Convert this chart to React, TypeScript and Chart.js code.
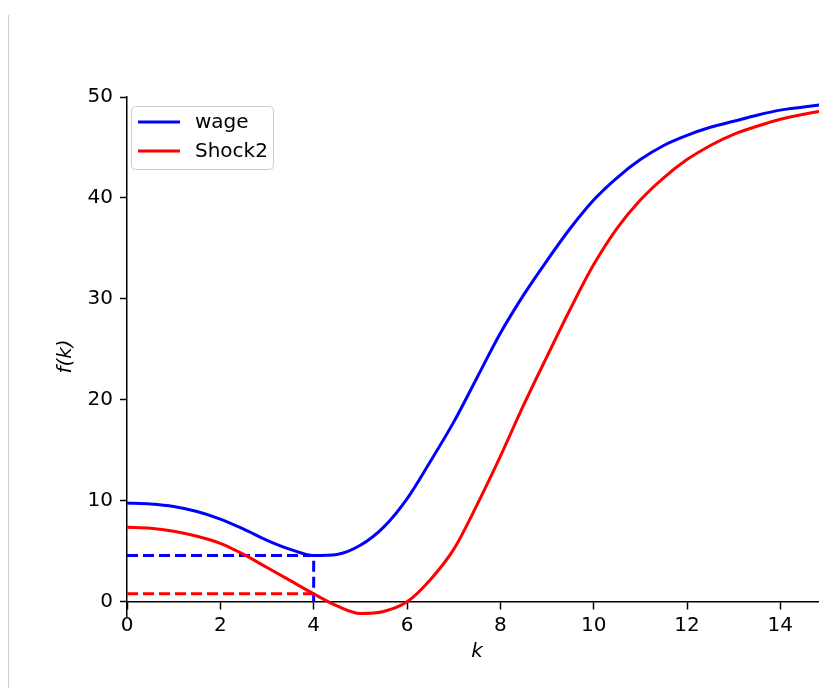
import React, { useEffect, useRef } from 'react';
import { Chart, registerables } from 'chart.js';

Chart.register(...registerables);

// ---- data ----
const kValues = [0, 0.5, 1, 1.5, 2, 2.5, 3, 3.5, 4, 4.5, 5, 5.5, 6, 6.5, 7, 7.5, 8, 8.5, 9, 9.5, 10, 10.5, 11, 11.5, 12, 12.5, 13, 13.5, 14, 14.5, 15];
const wage = [9.8, 9.7, 9.45, 8.95, 8.2, 7.2, 6.1, 5.2, 4.6, 4.7, 5.6, 7.4, 10.2, 13.9, 17.8, 22.2, 26.6, 30.4, 33.8, 37.0, 39.8, 42.0, 43.8, 45.2, 46.2, 47.0, 47.6, 48.2, 48.7, 49.0, 49.3];
const shock2 = [7.4, 7.3, 7.0, 6.5, 5.8, 4.7, 3.4, 2.1, 0.8, -0.4, -1.15, -0.95, 0.0, 2.2, 5.2, 9.6, 14.4, 19.5, 24.3, 29.0, 33.4, 37.0, 39.8, 42.0, 43.8, 45.2, 46.3, 47.1, 47.8, 48.3, 48.7];
const wageDashK = [0, 4, 4];
const wageDashF = [4.6, 4.6, 0];
const shockDashK = [0, 4];
const shockDashF = [0.8, 0.8];
const seriesLabels = ['wage', 'Shock2'];
const seriesColors = ['#0000ff', '#ff0000'];
const xTicks = [0, 2, 4, 6, 8, 10, 12, 14];
const yTicks = [0, 10, 20, 30, 40, 50];
const xMin = 0;
const xMax = 15;
const yMin = -1.4;
const yMax = 50;

const FONT = 'DejaVu Sans';

const toPoints = (xs: number[], ys: number[]) => xs.map((x, i) => ({ x, y: ys[i] }));

const legendPlugin = {
  id: 'mplLegend',
  afterDatasetsDraw(chart: any) {
    const ctx = chart.ctx as CanvasRenderingContext2D;
    ctx.save();
    const x0 = 131.5, y0 = 106.5, w = 142, h = 63, r = 4;
    ctx.beginPath();
    ctx.moveTo(x0 + r, y0);
    ctx.lineTo(x0 + w - r, y0);
    ctx.arcTo(x0 + w, y0, x0 + w, y0 + r, r);
    ctx.lineTo(x0 + w, y0 + h - r);
    ctx.arcTo(x0 + w, y0 + h, x0 + w - r, y0 + h, r);
    ctx.lineTo(x0 + r, y0 + h);
    ctx.arcTo(x0, y0 + h, x0, y0 + h - r, r);
    ctx.lineTo(x0, y0 + r);
    ctx.arcTo(x0, y0, x0 + r, y0, r);
    ctx.closePath();
    ctx.fillStyle = 'rgba(255,255,255,0.8)';
    ctx.fill();
    ctx.strokeStyle = '#cccccc';
    ctx.lineWidth = 1;
    ctx.stroke();
    const rows = [122, 151];
    chart.data.datasets.slice(0, 2).forEach((ds: any, i: number) => {
      ctx.beginPath();
      ctx.moveTo(138, rows[i]);
      ctx.lineTo(180, rows[i]);
      ctx.strokeStyle = ds.borderColor;
      ctx.lineWidth = 3;
      ctx.stroke();
      ctx.fillStyle = '#000';
      ctx.font = `20px "${FONT}"`;
      ctx.textBaseline = 'alphabetic';
      ctx.textAlign = 'left';
      ctx.fillText(ds.label, 195, rows[i] + 6);
    });
    ctx.restore();
  },
};

export default function App() {
  const canvasRef = useRef<HTMLCanvasElement | null>(null);

  useEffect(() => {
    if (!canvasRef.current) return;
    const tickFont = { family: FONT, size: 20 };
    const chart = new Chart(canvasRef.current, {
      type: 'line',
      data: {
        datasets: [
          {
            label: seriesLabels[0],
            data: toPoints(kValues, wage),
            borderColor: seriesColors[0],
            borderWidth: 3,
            pointRadius: 0,
            cubicInterpolationMode: 'monotone',
            fill: false,
          },
          {
            label: seriesLabels[1],
            data: toPoints(kValues, shock2),
            borderColor: seriesColors[1],
            borderWidth: 3,
            pointRadius: 0,
            cubicInterpolationMode: 'monotone',
            fill: false,
          },
          {
            label: 'wage-dash',
            data: toPoints(wageDashK, wageDashF),
            borderColor: seriesColors[0],
            borderWidth: 3,
            borderDash: [11, 5],
            pointRadius: 0,
            tension: 0,
            fill: false,
          },
          {
            label: 'shock-dash',
            data: toPoints(shockDashK, shockDashF),
            borderColor: seriesColors[1],
            borderWidth: 3,
            borderDash: [11, 5],
            pointRadius: 0,
            tension: 0,
            fill: false,
          },
        ],
      },
      options: {
        responsive: false,
        maintainAspectRatio: false,
        animation: false,
        events: [],
        layout: { padding: { left: 0, right: 0, top: 97, bottom: 72 } },
        plugins: {
          legend: { display: false },
          tooltip: { enabled: false },
        },
        scales: {
          x: {
            type: 'linear',
            min: xMin,
            max: xMax,
            bounds: 'data',
            position: { y: 0 } as any,
            border: { display: true, color: '#000', width: 1.5 },
            grid: { drawOnChartArea: false, drawTicks: true, tickLength: 7, tickWidth: 1.5, tickColor: '#000' },
            ticks: { color: '#000', font: tickFont, padding: 5, maxRotation: 0, autoSkip: false },
            afterBuildTicks: (s: any) => {
              s.ticks = xTicks.map((v) => ({ value: v }));
            },
            title: {
              display: true,
              text: 'k',
              color: '#000',
              font: { family: FONT, size: 20, style: 'italic' },
              padding: { top: -3, bottom: 0 },
            },
          },
          y: {
            type: 'linear',
            min: yMin,
            max: yMax,
            bounds: 'data',
            border: { display: true, color: '#000', width: 1.5 },
            grid: { drawOnChartArea: false, drawTicks: true, tickLength: 7, tickWidth: 1.5, tickColor: '#000' },
            ticks: { color: '#000', font: tickFont, padding: 7, autoSkip: false },
            afterBuildTicks: (s: any) => {
              s.ticks = yTicks.map((v) => ({ value: v }));
            },
            title: {
              display: true,
              text: 'f(k)',
              color: '#000',
              font: { family: FONT, size: 20, style: 'italic' },
              padding: { top: 54, bottom: 0 },
            },
            afterFit: (s: any) => {
              s.width = 127;
            },
          },
        },
      },
      plugins: [legendPlugin],
    } as any);
    return () => chart.destroy();
  }, []);

  return (
    <div style={{ position: 'absolute', left: 0, top: 0, width: 819, height: 688, overflow: 'hidden', background: '#fff' }}>
      <div style={{ position: 'absolute', left: 8, top: 15, width: 1, height: 673, background: '#cfcfcf' }} />
      <canvas ref={canvasRef} width={827} height={688} style={{ display: 'block', position: 'absolute', left: 0, top: 0 }} />
    </div>
  );
}
